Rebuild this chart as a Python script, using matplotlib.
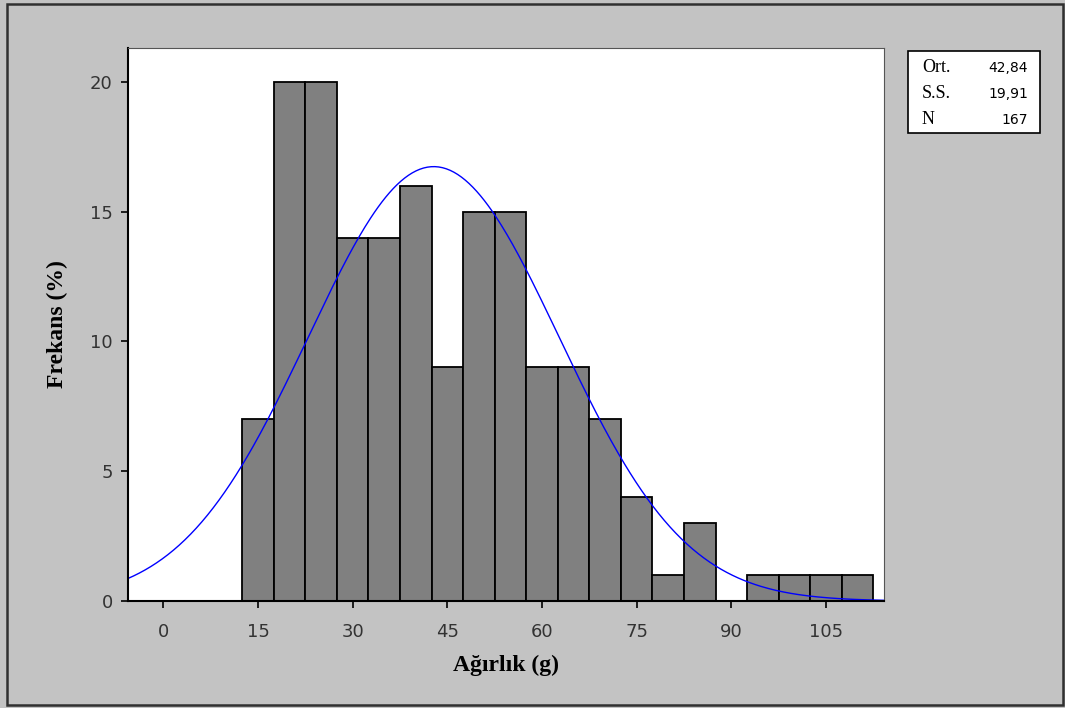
import numpy as np
import matplotlib
matplotlib.use('Agg')
import matplotlib.pyplot as plt
from matplotlib.patches import Rectangle

# Histogram bins (centers, width 5 g) and counts
bin_centers = [15, 20, 25, 30, 35, 40, 45, 50, 55, 60, 65, 70, 75, 80, 85, 90, 95, 100, 105, 110]
counts = [7, 20, 20, 14, 14, 16, 9, 15, 15, 9, 9, 7, 4, 1, 3, 0, 1, 1, 1, 1]
bin_width = 5

# Summary statistics
mean = 42.84
sd = 19.91
n = 167

x_ticks = [0, 15, 30, 45, 60, 75, 90, 105]
y_ticks = [0, 5, 10, 15, 20]

bg = '#c3c3c3'
fig = plt.figure(figsize=(10.65, 7.08), dpi=100, facecolor=bg)

# outer frame
fig.patches.append(Rectangle((7 / 1065, 3 / 708), 1056 / 1065, 701 / 708,
                             transform=fig.transFigure, fill=False,
                             edgecolor='#303030', linewidth=1.8))

ax = fig.add_axes([128 / 1065, 1 - 601 / 708, 756 / 1065, 553 / 708])
ax.set_facecolor('white')

ax.bar(bin_centers, counts, width=bin_width, color='#808080',
       edgecolor='black', linewidth=1.3)

# fitted normal curve scaled to the histogram
xs = np.linspace(-5.6, 114.2, 400)
ys = n * bin_width * np.exp(-0.5 * ((xs - mean) / sd) ** 2) / (sd * np.sqrt(2 * np.pi))
ax.plot(xs, ys, color='#0000ff', linewidth=1.0)

ax.set_xlim(-5.6, 114.2)
ax.set_ylim(0, 21.3)
ax.set_xticks(x_ticks)
ax.set_yticks(y_ticks)
ax.tick_params(direction='out', length=5, width=1.2, labelsize=13,
               colors='black', pad=11)
ax.tick_params(axis='y', pad=6)
for lab in ax.get_xticklabels() + ax.get_yticklabels():
    lab.set_fontfamily('DejaVu Sans')
    lab.set_color('#333333')

for side in ['left', 'bottom']:
    ax.spines[side].set_linewidth(1.5)
for side in ['top', 'right']:
    ax.spines[side].set_linewidth(0.8)
    ax.spines[side].set_color('#555555')

ax.set_xlabel('Ağırlık (g)', fontfamily='Liberation Serif', fontweight='bold',
              fontsize=17, labelpad=10)
ax.set_ylabel('Frekans (%)', fontfamily='Liberation Serif', fontweight='bold',
              fontsize=17, labelpad=16)

# statistics box
fig.patches.append(Rectangle((908 / 1065, 1 - 133 / 708), 132 / 1065, 82 / 708,
                             transform=fig.transFigure, facecolor='white',
                             edgecolor='black', linewidth=1.2))
labels = ['Ort.', 'S.S.', 'N']
values = ['42,84', '19,91', '167']
for i, (lab, val) in enumerate(zip(labels, values)):
    y = 1 - (68 + i * 26) / 708
    fig.text(922 / 1065, y, lab, fontfamily='Liberation Serif', fontsize=13,
             va='center', ha='left')
    fig.text(1028 / 1065, y, val, fontfamily='DejaVu Sans', fontsize=10,
             va='center', ha='right')

fig.savefig('out.png', dpi=100, facecolor=bg)
